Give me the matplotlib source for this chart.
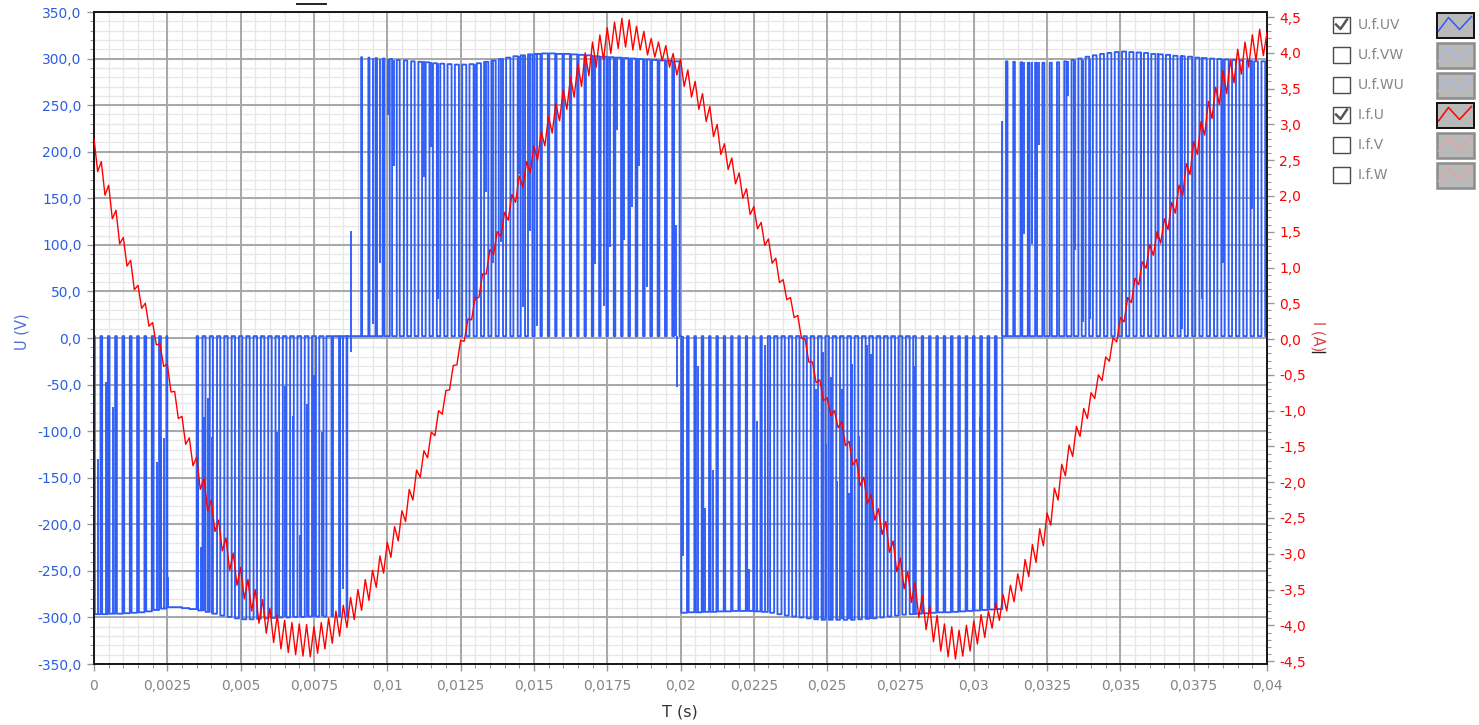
import numpy as np
import matplotlib
matplotlib.use("Agg")
import matplotlib.pyplot as plt
from matplotlib.patches import Rectangle
from matplotlib.ticker import MultipleLocator, FuncFormatter

# ---------------- data ----------------
# PWM line-to-line voltage U.f.UV : one entry per PWM period (0.25 ms)
pwm_period = 0.00025
pwm_zero = 2.0
pwm_duty = [
    0.78, 0.78, 0.77, 0.77, 0.77, 0.76, 0.76, 0.76, 0.75, 0.75,
    1.00, 1.00, 1.00, 1.00, 0.60, 0.58, 0.56, 0.55, 0.55, 0.54,
    0.54, 0.53, 0.53, 0.52, 0.52, 0.51, 0.50, 0.50, 0.49, 0.48,
    0.46, 0.40, 0.20, 0.15, 0.10, 0.00, 0.12, 0.15, 0.20, 0.25,
    0.32, 0.40, 0.45, 0.48, 0.50, 0.52, 0.53, 0.54, 0.55, 0.55,
    0.56, 0.56, 0.57, 0.57, 0.58, 0.58, 0.58, 0.59, 0.59, 0.60,
    0.80, 0.81, 0.81, 0.82, 0.82, 0.82, 0.81, 0.81, 0.80, 0.80,
    0.80, 0.79, 0.79, 0.78, 0.78, 0.78, 0.77, 0.77, 0.76, 0.76,
    0.78, 0.78, 0.79, 0.79, 0.80, 0.80, 0.81, 0.81, 0.82, 0.82,
    0.82, 0.82, 0.55, 0.55, 0.54, 0.54, 0.53, 0.53, 0.52, 0.52,
    0.52, 0.51, 0.51, 0.51, 0.50, 0.50, 0.50, 0.50, 0.49, 0.49,
    0.49, 0.48, 0.80, 0.80, 0.79, 0.79, 0.78, 0.78, 0.78, 0.77,
    0.77, 0.76, 0.76, 0.76, 0.20, 0.22, 0.24, 0.25, 0.26, 0.27,
    0.28, 0.29, 0.30, 0.32, 0.45, 0.48, 0.50, 0.52, 0.53, 0.54,
    0.55, 0.55, 0.56, 0.56, 0.56, 0.57, 0.57, 0.57, 0.56, 0.56,
    0.56, 0.55, 0.55, 0.54, 0.54, 0.53, 0.53, 0.52, 0.52, 0.51,
]
pwm_level = [
    -296.5, -296.5, -296, -296, -295.5, -295, -294.5, -293.5, -292, -290.5,
    -289, -289, -290, -291, -292.5, -294, -296, -298, -299.5, -301,
    -302, -302, -301.5, -301, -300.5, -300, -300, -299.5, -299.5, -299,
    -299, -299, -299, -299, -299, 301.5, 301.5, 301, 300.5, 300,
    299.5, 298.5, 298, 297, 296.5, 296, 295, 294.5, 294, 293.5,
    293.5, 294, 295, 296.5, 298, 299.5, 301, 302.5, 303.5, 304.5,
    305, 305.5, 305.5, 305, 305, 304.5, 304, 303.5, 302.5, 302,
    301.5, 301, 300.5, 300, 299.5, 299, 298.5, 298, 297.5, 297,
    -295, -294.5, -294.5, -294, -294, -293.5, -293.5, -293, -293, -293,
    -293.5, -294, -295, -296.5, -298, -299, -300, -301, -302, -302.5,
    -302.5, -302.5, -302.5, -302.5, -302, -301.5, -301, -300, -299, -298,
    -297, -296.5, -296, -295.5, -295, -294.5, -294.5, -294, -293.5, -293,
    -292.5, -292, -291.5, -291, 297, 296.5, 296, 295.5, 295.5, 295.5,
    295.5, 296, 297, 298.5, 300, 302, 303.5, 305, 306, 307,
    307.5, 307, 306.5, 306, 305, 304.5, 304, 303, 302.5, 302,
    301, 300.5, 300, 299.5, 299, 298.5, 298, 297.5, 297, 297,
]
# partially sampled switching edges (time s, from V, to V)
spike_t = [0.00014, 0.00040, 0.00064, 0.00176, 0.00214, 0.00229, 0.00239, 0.00251,
           0.00352, 0.00365, 0.00375, 0.00390, 0.00402, 0.00624, 0.00652, 0.00677,
           0.00701, 0.00726, 0.00751, 0.00777, 0.00848, 0.00876,
           0.00951, 0.00976, 0.01001, 0.01024, 0.01124, 0.01149, 0.01173, 0.01300,
           0.01337, 0.01361, 0.01388, 0.01448, 0.01463, 0.01486, 0.01511, 0.01710,
           0.01738, 0.01761, 0.01784, 0.01809, 0.01835, 0.01860, 0.01886, 0.01986,
           0.01988, 0.02010,
           0.02060, 0.02085, 0.02111, 0.02235, 0.02260, 0.02287, 0.02461, 0.02486,
           0.02497, 0.02512, 0.02535, 0.02550, 0.02574, 0.02585, 0.02610, 0.02637,
           0.02648, 0.02799, 0.02850, 0.02874, 0.02899, 0.02924, 0.02948, 0.02973,
           0.02998, 0.03022,
           0.03098, 0.03172, 0.03197, 0.03221, 0.03322, 0.03346, 0.03371, 0.03396,
           0.03570, 0.03630, 0.03670, 0.03710, 0.03780, 0.03850, 0.03950]
spike_from = [-296, -296, -296, -294, -292, -291, -290, -289,
              -292, -293, -293, -294, -296, -300, -300, -300,
              -300, -300, -300, -299, 2, -15,
              301, 300, 300, 299, 297, 296, 295, 294,
              296, 297, 298, 303, 304, 305, 305, 302,
              302, 301, 301, 300, 300, 299, 299, 2,
              2, 2,
              -294, -294, -294, -293, -293, -293, -302, -302,
              -302, -302, -302, -302, -302, -302, -302, -302,
              -302, -297, -296, -295, -295, -294, -294, -293,
              -293, -292,
              2, 296, 296, 296, 297, 298, 299, 300,
              307, 306, 305, 304, 302, 300, 298]
spike_to = [-130, -47, -74, -29, -133, -106, -107, -257,
            -180, -224, -85, -64, -106, -101, -51, -84,
            -212, -71, -40, -101, -270, 115,
            15, 81, 239, 185, 173, 205, 42, 40,
            157, 81, 103, 176, 33, 115, 13, 79,
            34, 98, 223, 105, 141, 185, 55, 121,
            -53, -234,
            -30, -182, -142, -248, -89, -8, -55, -15,
            -114, -42, -153, -55, -166, -28, -105, -8,
            -17, -30, -98, -203, -135, -186, -237, -83,
            -49, -85,
            233, 112, 101, 207, 260, 94, 17, 20,
            150, 106, 42, 10, 42, 80, 139]

# Phase current I.f.U sampled every 0.125 ms
current_dt = 0.000125
current = [
    2.80, 2.34, 2.48, 2.01, 2.15, 1.68, 1.80, 1.33, 1.42, 1.02, 1.10, 0.69,
    0.75, 0.43, 0.50, 0.18, 0.23, -0.08, -0.07, -0.38, -0.35, -0.74, -0.73, -1.11,
    -1.08, -1.47, -1.38, -1.77, -1.65, -2.10, -1.95, -2.40, -2.25, -2.69, -2.53, -2.96,
    -2.78, -3.23, -2.99, -3.44, -3.19, -3.63, -3.36, -3.80, -3.50, -3.97, -3.64, -4.11,
    -3.76, -4.24, -3.85, -4.33, -3.93, -4.38, -3.96, -4.41, -3.98, -4.43, -3.99, -4.44,
    -4.02, -4.39, -3.96, -4.33, -3.90, -4.25, -3.80, -4.15, -3.72, -4.03, -3.61, -3.92,
    -3.50, -3.79, -3.36, -3.65, -3.23, -3.47, -3.03, -3.27, -2.84, -3.05, -2.62, -2.82,
    -2.40, -2.55, -2.10, -2.25, -1.83, -1.93, -1.56, -1.66, -1.30, -1.35, -1.00, -1.05,
    -0.72, -0.71, -0.37, -0.36, -0.02, -0.03, 0.28, 0.27, 0.58, 0.58, 0.91, 0.91,
    1.25, 1.18, 1.50, 1.43, 1.77, 1.66, 2.02, 1.91, 2.28, 2.12, 2.48, 2.32,
    2.70, 2.50, 2.90, 2.70, 3.11, 2.88, 3.29, 3.05, 3.48, 3.21, 3.66, 3.38,
    3.85, 3.53, 4.00, 3.68, 4.15, 3.80, 4.25, 3.90, 4.35, 3.99, 4.43, 4.06,
    4.48, 4.08, 4.46, 4.04, 4.37, 4.04, 4.30, 3.97, 4.20, 3.94, 4.15, 3.89,
    4.10, 3.80, 3.99, 3.69, 3.91, 3.53, 3.76, 3.38, 3.60, 3.21, 3.43, 3.04,
    3.25, 2.83, 3.00, 2.58, 2.73, 2.37, 2.53, 2.17, 2.32, 1.97, 2.10, 1.74,
    1.85, 1.54, 1.63, 1.31, 1.40, 1.06, 1.13, 0.79, 0.83, 0.55, 0.58, 0.30,
    0.33, 0.01, 0.00, -0.32, -0.32, -0.61, -0.57, -0.86, -0.82, -1.07, -1.00, -1.24,
    -1.15, -1.49, -1.43, -1.76, -1.68, -2.05, -1.93, -2.30, -2.17, -2.53, -2.37, -2.73,
    -2.55, -2.98, -2.82, -3.25, -3.06, -3.49, -3.25, -3.68, -3.40, -3.89, -3.58, -4.06,
    -3.73, -4.23, -3.86, -4.36, -3.98, -4.44, -4.02, -4.47, -4.07, -4.43, -4.00, -4.36,
    -3.94, -4.26, -3.85, -4.17, -3.80, -4.04, -3.69, -3.93, -3.57, -3.80, -3.44, -3.67,
    -3.28, -3.52, -3.08, -3.32, -2.87, -3.12, -2.65, -2.89, -2.43, -2.60, -2.08, -2.25,
    -1.75, -1.91, -1.48, -1.64, -1.22, -1.36, -0.97, -1.11, -0.75, -0.83, -0.50, -0.58,
    -0.25, -0.31, 0.02, -0.04, 0.30, 0.24, 0.58, 0.51, 0.85, 0.76, 1.08, 0.99,
    1.32, 1.17, 1.50, 1.34, 1.68, 1.53, 1.91, 1.76, 2.15, 2.00, 2.45, 2.30,
    2.76, 2.58, 3.04, 2.85, 3.32, 3.08, 3.52, 3.28, 3.75, 3.43, 3.90, 3.58,
    4.05, 3.70, 4.15, 3.80, 4.25, 3.89, 4.33, 3.96, 4.28,
]

legend_names = ["U.f.UV", "U.f.VW", "U.f.WU", "I.f.U", "I.f.V", "I.f.W"]
legend_checked = [True, False, False, True, False, False]
legend_is_current = [False, False, False, True, True, True]

# ---------------- styling ----------------
BLUE = "#2f5df5"
RED = "#ff0000"
TICK_BLUE = "#2b5fe0"
GRAY_TXT = "#858585"
plt.rcParams["font.family"] = "DejaVu Sans"

W, H = 1479, 725
fig = plt.figure(figsize=(W / 100, H / 100), dpi=100)
fig.patch.set_facecolor("white")

left, right, top, bottom = 94, 1267, 12, 664
ax = fig.add_axes([left / W, 1 - bottom / H, (right - left) / W, (bottom - top) / H])
ax.set_xlim(0, 0.04)
ax.set_ylim(-350, 350)

# solid grid: minor first, major on top
xminor = np.arange(0, 0.04 + 1e-9, 0.0005)
xmajor = np.arange(0, 0.04 + 1e-9, 0.0025)
yminor = np.arange(-350, 351, 10)
ymajor = np.arange(-350, 351, 50)
ax.vlines(xminor, 0, 1, transform=ax.get_xaxis_transform(), color="#e7e7e7", lw=0.9, zorder=0.5)
ax.hlines(yminor, 0, 1, transform=ax.get_yaxis_transform(), color="#e7e7e7", lw=0.9, zorder=0.5)
ax.vlines(xmajor, 0, 1, transform=ax.get_xaxis_transform(), color="#a8a8a8", lw=1.4, zorder=0.6)
ax.hlines(ymajor, 0, 1, transform=ax.get_yaxis_transform(), color="#a8a8a8", lw=1.4, zorder=0.6)

# build the PWM polyline from the per-period data
tv, vv = [], []
for k, (d, lev) in enumerate(zip(pwm_duty, pwm_level)):
    t0 = k * pwm_period
    t1 = t0 + pwm_period
    if d <= 0:
        tv += [t0, t1]
        vv += [pwm_zero, pwm_zero]
    elif d >= 1:
        tv += [t0, t1]
        vv += [lev, lev]
    else:
        ta = t0 + (1 - d) / 2 * pwm_period
        tb = t0 + (1 + d) / 2 * pwm_period
        tv += [t0, ta, ta, tb, tb, t1]
        vv += [pwm_zero, pwm_zero, lev, lev, pwm_zero, pwm_zero]

ax.plot(tv, vv, color=BLUE, lw=1.35, zorder=3, snap=False)
ax.vlines(spike_t, spike_from, spike_to, color=BLUE, lw=1.35, zorder=3)

ax.xaxis.set_major_locator(MultipleLocator(0.0025))
ax.xaxis.set_minor_locator(MultipleLocator(0.0005))
ax.yaxis.set_major_locator(MultipleLocator(50))
ax.yaxis.set_minor_locator(MultipleLocator(10))


def fmt_x(v, pos):
    if abs(v) < 1e-12:
        return "0"
    s = f"{v:.4f}".rstrip("0").rstrip(".")
    return s.replace(".", ",")


def fmt_y(v, pos):
    if abs(v) < 1e-9:
        v = 0.0
    return f"{v:.1f}".replace(".", ",")


ax.xaxis.set_major_formatter(FuncFormatter(fmt_x))
ax.yaxis.set_major_formatter(FuncFormatter(fmt_y))
ax.tick_params(axis="x", which="major", colors="#999999", labelcolor=GRAY_TXT,
               labelsize=10, length=5, width=1, pad=6)
ax.tick_params(axis="x", which="minor", colors="#999999", length=3, width=0.8)
ax.tick_params(axis="y", which="major", colors="#999999", labelcolor=TICK_BLUE,
               labelsize=10, length=5, width=1, pad=4)
ax.tick_params(axis="y", which="minor", colors="#999999", length=3, width=0.8)
for s in ax.spines.values():
    s.set_color("#1a1a1a")
    s.set_linewidth(1.3)

# current axis
ax2 = ax.twinx()
ax2.set_ylim(-4.54, 4.57)
t_cur = np.arange(len(current)) * current_dt
ax2.plot(t_cur, current, color=RED, lw=1.0, zorder=4)
ax2.yaxis.set_major_locator(MultipleLocator(0.5))
ax2.yaxis.set_minor_locator(MultipleLocator(0.1))
ax2.yaxis.set_major_formatter(FuncFormatter(fmt_y))
ax2.tick_params(axis="y", which="major", colors="#999999", labelcolor=RED,
                labelsize=10, length=5, width=1, pad=4)
ax2.tick_params(axis="y", which="minor", colors="#999999", length=3, width=0.8)
for s in ax2.spines.values():
    s.set_color("#1a1a1a")
    s.set_linewidth(1.3)

# axis titles
fig.text(680 / W, 1 - 712 / H, "T (s)", ha="center", va="center", fontsize=11.5, color="#333333")
fig.text(22 / W, 1 - 332 / H, "U (V)", ha="center", va="center", rotation=90,
         fontsize=10.5, color="#4d70d6")
fig.text(1318 / W, 1 - 336 / H, "I (A)", ha="center", va="center", rotation=270,
         fontsize=10.5, color="#d84848")

# ---------------- legend panel (pixel overlay) ----------------
ov = fig.add_axes([0, 0, 1, 1], facecolor="none")
ov.set_xlim(0, W)
ov.set_ylim(H, 0)
ov.axis("off")
ov.plot([297, 326], [3.5, 3.5], color="#222222", lw=1.4)
ov.plot([1312, 1325], [352, 352], color="#222222", lw=1.0)

for i, (name, chk, is_cur) in enumerate(zip(legend_names, legend_checked, legend_is_current)):
    cy = 25 + 30 * i
    ov.add_patch(Rectangle((1333, cy - 8.3), 16.5, 16.5, fill=False,
                           edgecolor="#4a4a4a", lw=1.0))
    if chk:
        ov.plot([1336, 1340.5, 1347], [cy - 0.5, cy + 4, cy - 5.5], color="#555555", lw=1.8)
    ov.text(1358, cy, name, ha="left", va="center", fontsize=10, color=GRAY_TXT)
    ov.add_patch(Rectangle((1437, cy - 12), 37, 25, facecolor="#b9b9b9",
                           edgecolor="#111111" if chk else "#8c8c8c",
                           lw=1.4 if chk else 1.8))
    if is_cur:
        zc = RED if chk else "#e6a3a3"
    else:
        zc = BLUE if chk else "#a9b9ee"
    ov.plot([1438.5, 1448.5, 1459.5, 1471.5], [cy + 6, cy - 7.5, cy + 4.5, cy - 8.5],
            color=zc, lw=1.1)

fig.savefig("out.png", dpi=100, facecolor="white")
